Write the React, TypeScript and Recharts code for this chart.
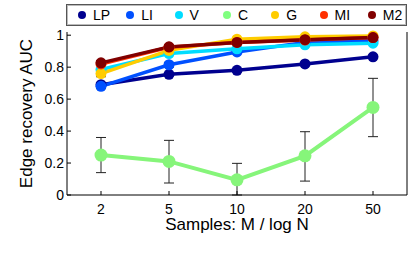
import React from "react";
import { LineChart, Line, XAxis, YAxis, ErrorBar } from "recharts";

const categories = ["2", "5", "10", "20", "50"];
const seriesNames = ["LP", "LI", "V", "C", "G", "MI", "M2"];
const seriesColors = ["#00008f", "#0050ff", "#00dcff", "#86f57a", "#ffcc00", "#ff3000", "#800000"];
const legendColors = ["#00008f", "#0050ff", "#00dcff", "#80ff80", "#ffcc00", "#ff3000", "#800000"];

const lpValues = [0.69, 0.755, 0.78, 0.82, 0.865];
const liValues = [0.68, 0.815, 0.895, 0.955, 0.965];
const vValues = [0.785, 0.885, 0.915, 0.94, 0.95];
const cValues = [0.25, 0.21, 0.095, 0.245, 0.548];
const gValues = [0.76, 0.905, 0.975, 0.99, 0.995];
const miValues = [0.82, 0.925, 0.955, 0.97, 0.985];
const m2Values = [0.827, 0.927, 0.955, 0.972, 0.985];

const cLow = [0.14, 0.075, 0.0, 0.087, 0.365];
const cHigh = [0.36, 0.342, 0.198, 0.396, 0.73];
const lpErr = [0.012, 0.01, 0.01, 0.01, 0.01];
const liErr = [0.015, 0.015, 0.01, 0.0, 0.0];
const gErr = [0.02, 0.0, 0.0, 0.0, 0.0];
const m2Err = [0.015, 0.01, 0.012, 0.01, 0.01];

const yTicks = [0, 0.2, 0.4, 0.6, 0.8, 1];

const allValues = [lpValues, liValues, vValues, cValues, gValues, miValues, m2Values];
const keys = ["LP", "LI", "V", "C", "G", "MI", "M2"];

const data = categories.map((cat, i) => {
  const row: any = { x: cat };
  keys.forEach((k, j) => {
    row[k] = allValues[j][i];
  });
  row.cErr = [cValues[i] - cLow[i], cHigh[i] - cValues[i]];
  row.lpErr = lpErr[i];
  row.liErr = liErr[i];
  row.gErr = gErr[i];
  row.m2Err = m2Err[i];
  return row;
});

const errKeys: Record<string, string> = { LP: "lpErr", LI: "liErr", C: "cErr", G: "gErr", M2: "m2Err" };

const FONT = "'Liberation Sans', Arial, Helvetica, sans-serif";

const LeftTick = (p: any) => (
  <g>
    <text x={p.x - 3} y={p.y} dy="0.35em" textAnchor="end" fontSize={14} fontFamily={FONT} fill="#000">
      {String(p.payload.value)}
    </text>
    <line x1={p.x} x2={p.x + 4} y1={p.y} y2={p.y} stroke="#000" strokeWidth={1} />
  </g>
);
const RightTick = (p: any) => (
  <line x1={p.x - 4} x2={p.x} y1={p.y} y2={p.y} stroke="#000" strokeWidth={1} />
);
const BottomTick = (p: any) => (
  <g>
    <text x={p.x} y={p.y + 18.5} textAnchor="middle" fontSize={14} fontFamily={FONT} fill="#000">
      {p.payload.value}
    </text>
    <line x1={p.x} x2={p.x} y1={p.y} y2={p.y - 4} stroke="#000" strokeWidth={1} />
  </g>
);
const TopTick = (p: any) => (
  <line x1={p.x} x2={p.x} y1={p.y} y2={p.y + 4} stroke="#000" strokeWidth={1} />
);

export default function App() {
  return (
    <div style={{ position: "absolute", left: 0, top: 0, width: 415, height: 261, background: "#fff" }}>
      <div
        style={{
          position: "absolute",
          left: 66,
          top: 4,
          width: 339,
          height: 20,
          border: "1px solid #555",
          boxShadow: "inset 0 0 0 1px #bbb",
          background: "#fff",
          fontFamily: FONT,
          fontSize: 14,
          zIndex: 2,
        }}
      >
        {seriesNames.map((n, i) => (
          <div
            key={n}
            style={{ position: "absolute", left: 11 + i * 48.3, top: 1, height: 18, display: "flex", alignItems: "center" }}
          >
            <span
              style={{ display: "inline-block", width: 8, height: 8, borderRadius: 4, background: legendColors[i] }}
            />
            <span style={{ marginLeft: 7, lineHeight: "18px" }}>{n}</span>
          </div>
        ))}
      </div>
      <LineChart width={415} height={261} data={data} margin={{ top: 32, right: 0, left: 0, bottom: 0 }}>
        <XAxis
          dataKey="x"
          height={66}
          padding={{ left: 34, right: 34 }}
          tickSize={0}
          tickMargin={0}
          tick={BottomTick}
          axisLine={{ stroke: "#000" }}
          tickLine={false}
          interval={0}
          label={{
            content: (lp: any) => {
              const vb = lp.viewBox;
              return (
                <text x={vb.x + vb.width / 2} y={vb.y + 35} textAnchor="middle" fontSize={17} fontFamily={FONT} fill="#000">
                  Samples: M / log N
                </text>
              );
            },
          }}
        />
        <XAxis
          xAxisId="top"
          dataKey="x"
          orientation="top"
          height={0}
          padding={{ left: 34, right: 34 }}
          tickSize={0}
          tickMargin={0}
          tick={TopTick}
          tickLine={false}
          axisLine={{ stroke: "#000" }}
          interval={0}
        />
        <YAxis
          width={67}
          domain={[0, 1.02]}
          ticks={yTicks}
          tickSize={0}
          tickMargin={0}
          tick={LeftTick}
          tickLine={false}
          axisLine={{ stroke: "#000" }}
          label={{
            content: (lp: any) => {
              const vb = lp.viewBox;
              const cx = 26;
              const cy = vb.y + vb.height / 2;
              return (
                <text
                  x={cx}
                  y={cy}
                  transform={`rotate(-90 ${cx} ${cy})`}
                  textAnchor="middle"
                  dy="0.35em"
                  fontSize={17}
                  fontFamily={FONT}
                  fill="#000"
                >
                  Edge recovery AUC
                </text>
              );
            },
          }}
        />
        <YAxis
          yAxisId="r"
          orientation="right"
          width={8}
          domain={[0, 1.02]}
          ticks={yTicks}
          tickSize={0}
          tickMargin={0}
          tick={RightTick}
          tickLine={false}
          axisLine={{ stroke: "#000" }}
        />
        {keys.map((k, i) => (
          <Line
            key={k}
            dataKey={k}
            type="linear"
            stroke={seriesColors[i]}
            strokeWidth={k === "C" ? 4 : 3.5}
            dot={{ r: k === "C" ? 6.5 : 5.5, fill: seriesColors[i], stroke: seriesColors[i], strokeWidth: 0 }}
            activeDot={false}
            isAnimationActive={false}
          >
            {errKeys[k] ? (
              <ErrorBar dataKey={errKeys[k]} width={5} stroke="#222" strokeWidth={1} direction="y" />
            ) : null}
          </Line>
        ))}
      </LineChart>
    </div>
  );
}
